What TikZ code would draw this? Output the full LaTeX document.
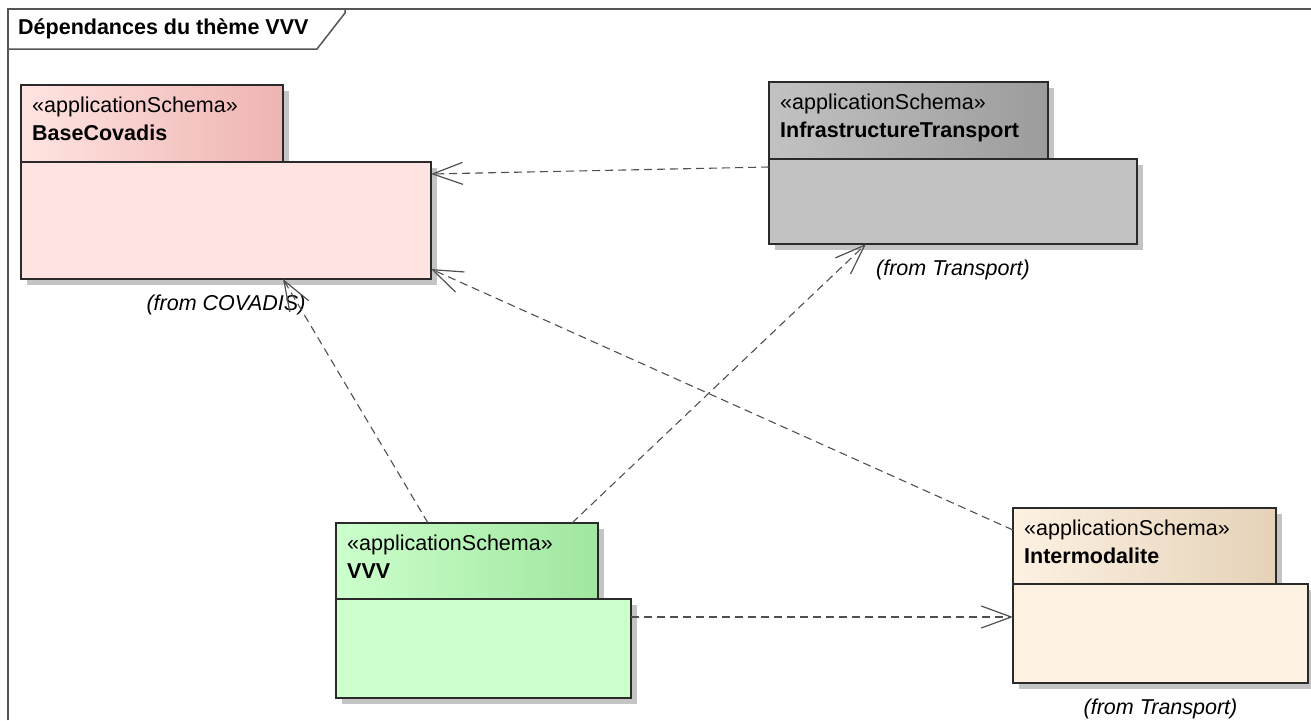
\documentclass[tikz,border=0pt]{standalone}
\usepackage{fontspec}
\setmainfont{Liberation Sans}
\usetikzlibrary{arrows.meta,shadows}
\definecolor{bcbody}{HTML}{FFE4E1}
\definecolor{bctab}{HTML}{EEB4B2}
\definecolor{itbody}{HTML}{C2C2C2}
\definecolor{ittab}{HTML}{9C9C9C}
\definecolor{vvbody}{HTML}{CCFFCC}
\definecolor{vvtab}{HTML}{A0E6A0}
\definecolor{imbody}{HTML}{FDF1E2}
\definecolor{imtab}{HTML}{E5D2B8}
\definecolor{boxline}{HTML}{2A2A2A}
\definecolor{framegray}{HTML}{555555}
\definecolor{arrowgray}{HTML}{505050}
\definecolor{shadowgray}{HTML}{C4C4C4}
\newcommand\dfont{\fontsize{21.5}{26}\selectfont}
\begin{document}
\begin{tikzpicture}[x=1pt,y=-1pt,
  pkgbox/.style={draw=boxline, line width=1.2pt, anchor=north west, inner sep=0pt, outer sep=0pt,
    drop shadow={shadow xshift=6pt, shadow yshift=-6pt, fill=shadowgray, opacity=1}},
  txt/.style={anchor=base west, inner sep=0pt, font=\dfont},
  fromtxt/.style={anchor=base, inner sep=0pt, font=\dfont\itshape},
  framest/.style={draw=framegray, line width=1.5pt},
  dep/.style={draw=arrowgray, line width=1.1pt, dash pattern=on 8pt off 5pt,
    -{Straight Barb[length=30pt,width=22pt,line width=1.2pt]}}]
\useasboundingbox (0,0) rectangle (1311,720);
% frame
\draw[framest] (8,720) -- (8,9) -- (1311,9);
\draw[framest] (8,49) -- (317,49) -- (345,13) -- (345,9);
\node[txt, font=\dfont\bfseries] (title) at (18,34) {Dépendances du thème VVV};
% BaseCovadis
\node[pkgbox, minimum width=262pt, minimum height=77pt, left color=bcbody, middle color=bcbody!85!bctab, right color=bctab] (BCtab) at (21,85) {};
\node[pkgbox, minimum width=410pt, minimum height=117pt, fill=bcbody] (BCbody) at (21,162) {};
\node[txt] (BCst) at ([shift={(11,27)}]BCtab.north west) {«applicationSchema»};
\node[txt, font=\dfont\bfseries] (BCname) at ([shift={(11,55)}]BCtab.north west) {BaseCovadis};
\node[fromtxt] (BCfrom) at ([shift={(0,31)}]BCbody.south) {(from COVADIS)};
% InfrastructureTransport
\node[pkgbox, minimum width=279pt, minimum height=77pt, left color=itbody, middle color=itbody!85!ittab, right color=ittab] (ITtab) at (769,82) {};
\node[pkgbox, minimum width=368pt, minimum height=85pt, fill=itbody] (ITbody) at (769,159) {};
\node[txt] (ITst) at ([shift={(11,27)}]ITtab.north west) {«applicationSchema»};
\node[txt, font=\dfont\bfseries] (ITname) at ([shift={(11,55)}]ITtab.north west) {InfrastructureTransport};
\node[fromtxt] (ITfrom) at ([shift={(0,31)}]ITbody.south) {(from Transport)};
% VVV
\node[pkgbox, minimum width=262pt, minimum height=76pt, left color=vvbody, middle color=vvbody!85!vvtab, right color=vvtab] (VVtab) at (336,523) {};
\node[pkgbox, minimum width=295pt, minimum height=99pt, fill=vvbody] (VVbody) at (336,599) {};
\node[txt] (VVst) at ([shift={(11,27)}]VVtab.north west) {«applicationSchema»};
\node[txt, font=\dfont\bfseries] (VVname) at ([shift={(11,55)}]VVtab.north west) {VVV};
% Intermodalite
\node[pkgbox, minimum width=263pt, minimum height=76pt, left color=imbody, middle color=imbody!85!imtab, right color=imtab] (IMtab) at (1013,508) {};
\node[pkgbox, minimum width=295pt, minimum height=99pt, fill=imbody] (IMbody) at (1013,584) {};
\node[txt] (IMst) at ([shift={(11,27)}]IMtab.north west) {«applicationSchema»};
\node[txt, font=\dfont\bfseries] (IMname) at ([shift={(11,55)}]IMtab.north west) {Intermodalite};
\node[fromtxt] (IMfrom) at ([shift={(0,31)}]IMbody.south) {(from Transport)};
% dependencies
\draw[dep] ([shift={(0,8)}]ITbody.north west) -- ([shift={(0,12)}]BCbody.north east);
\draw[dep] ([shift={(92,0)}]VVtab.north west) -- ([shift={(262,0)}]BCbody.south west);
\draw[dep] ([shift={(236,0)}]VVtab.north west) -- ([shift={(97,0)}]ITbody.south west);
\draw[dep] ([shift={(0,22)}]IMtab.north west) -- ([shift={(0,-10)}]BCbody.south east);
\draw[dep] ([shift={(0,18)}]VVbody.north east) -- ([shift={(0,33)}]IMbody.north west);
\end{tikzpicture}
\end{document}
